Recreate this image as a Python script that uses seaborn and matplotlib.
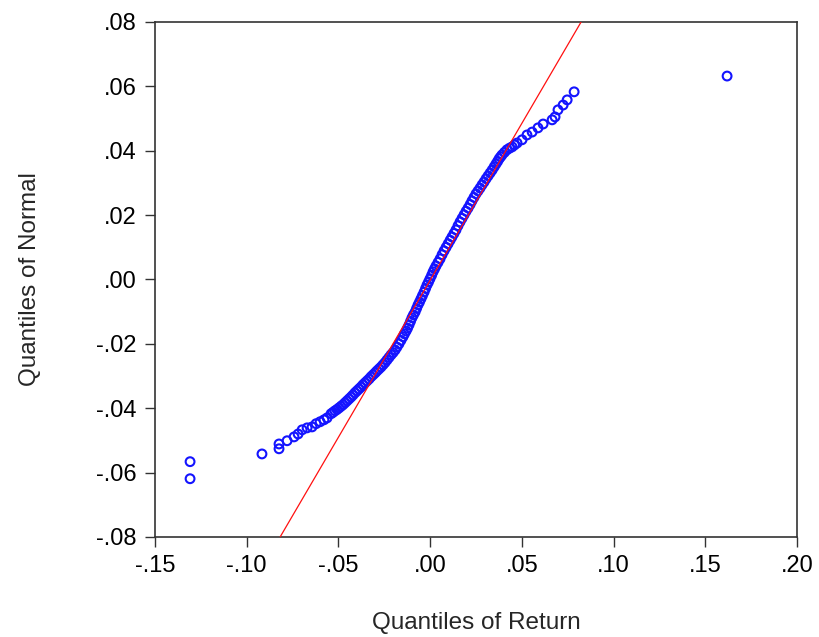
import matplotlib
matplotlib.use("Agg")
import matplotlib.pyplot as plt
import numpy as np
import pandas as pd
import seaborn as sns

# Empirical quantiles of the return series (sorted)
return_quantiles = [
    -0.1309, -0.1309, -0.0917, -0.0824, -0.0824, -0.0780, -0.0742, -0.0720,
    -0.0698, -0.0671, -0.0644, -0.0622, -0.0600, -0.0579, -0.0562,
    -0.0540, -0.0519, -0.0497, -0.0475, -0.0453, -0.0431, -0.0410, -0.0388,
    -0.0366, -0.0344, -0.0322, -0.0300, -0.0279, -0.0257, -0.0235, -0.0213,
    -0.0191, -0.0170, -0.0148, -0.0131, -0.0115, -0.0099, -0.0082, -0.0066,
    -0.0050, -0.0033, -0.0017, -0.0001, 0.0016, 0.0032, 0.0054, 0.0076,
    0.0098, 0.0119, 0.0141, 0.0163, 0.0185, 0.0207, 0.0228, 0.0250,
    0.0272, 0.0294, 0.0316, 0.0338, 0.0359, 0.0376, 0.0392,
    0.0405, 0.0419, 0.0433, 0.0447, 0.0460, 0.0474, 0.0501, 0.0528, 0.0556,
    0.0588, 0.0616, 0.0665, 0.0681, 0.0697, 0.0725, 0.0747, 0.0785, 0.1619,
]

# Matching theoretical normal quantiles
normal_quantiles = [
    -0.0619, -0.0566, -0.0542, -0.0526, -0.0511, -0.0501, -0.0489, -0.0480,
    -0.0467, -0.0461, -0.0458, -0.0448, -0.0442, -0.0436, -0.0430,
    -0.0417, -0.0408, -0.0399, -0.0389, -0.0377, -0.0365, -0.0352, -0.0340,
    -0.0327, -0.0315, -0.0302, -0.0290, -0.0278, -0.0265, -0.0250, -0.0234,
    -0.0219, -0.0200, -0.0178, -0.0160, -0.0141, -0.0119, -0.0101, -0.0079,
    -0.0060, -0.0039, -0.0017, 0.0002, 0.0024, 0.0042, 0.0064, 0.0089,
    0.0111, 0.0132, 0.0154, 0.0179, 0.0201, 0.0222, 0.0244, 0.0266,
    0.0284, 0.0303, 0.0322, 0.0340, 0.0359, 0.0375, 0.0387,
    0.0395, 0.0403, 0.0408, 0.0412, 0.0418, 0.0424, 0.0434, 0.0449, 0.0458,
    0.0471, 0.0483, 0.0496, 0.0505, 0.0527, 0.0542, 0.0558, 0.0583, 0.0632,
]

# Further observations in the crowded middle of the distribution
center_return_quantiles = [
    -0.0530, -0.0508, -0.0486, -0.0464, -0.0442, -0.0421, -0.0399, -0.0377,
    -0.0355, -0.0333, -0.0311, -0.0290, -0.0268, -0.0246, -0.0224, -0.0202,
    -0.0181, -0.0159, -0.0140, -0.0123, -0.0107, -0.0091, -0.0074, -0.0058,
    -0.0042, -0.0025, -0.0009, 0.0008, 0.0024, 0.0043, 0.0065, 0.0087,
    0.0109, 0.0130, 0.0152, 0.0174, 0.0196, 0.0218, 0.0239, 0.0261,
    0.0283, 0.0305, 0.0327, 0.0349, 0.0368, 0.0384,
]
center_normal_quantiles = [
    -0.0413, -0.0404, -0.0394, -0.0383, -0.0371, -0.0359, -0.0346, -0.0334,
    -0.0321, -0.0309, -0.0296, -0.0284, -0.0272, -0.0258, -0.0242, -0.0227,
    -0.0210, -0.0189, -0.0169, -0.0151, -0.0130, -0.0110, -0.0090, -0.0070,
    -0.0050, -0.0028, -0.0008, 0.0013, 0.0033, 0.0053, 0.0077, 0.0100,
    0.0122, 0.0143, 0.0167, 0.0190, 0.0212, 0.0233, 0.0255, 0.0275,
    0.0294, 0.0313, 0.0331, 0.0350, 0.0367, 0.0381,
]

# Reference line (normal fit)
ref_x = [-0.0818, 0.0823]
ref_y = [-0.0800, 0.0800]

x_ticks = [-0.15, -0.10, -0.05, 0.00, 0.05, 0.10, 0.15, 0.20]
x_tick_labels = ["-.15", "-.10", "-.05", ".00", ".05", ".10", ".15", ".20"]
y_ticks = [-0.08, -0.06, -0.04, -0.02, 0.00, 0.02, 0.04, 0.06, 0.08]
y_tick_labels = ["-.08", "-.06", "-.04", "-.02", ".00", ".02", ".04", ".06", ".08"]

sns.set_theme(style="ticks")
plt.rcParams["font.family"] = ["Liberation Sans", "DejaVu Sans"]

df = pd.DataFrame({
    "ret": return_quantiles + center_return_quantiles,
    "norm": normal_quantiles + center_normal_quantiles,
}).sort_values("ret")
ref = pd.DataFrame({"x": ref_x, "y": ref_y})

fig = plt.figure(figsize=(8.19, 6.37), dpi=100)
ax = fig.add_axes([0.1893, 0.157, 0.7838, 0.8085])

blue = "#1414ff"
sns.scatterplot(data=df, x="ret", y="norm", ax=ax, marker="o", s=40,
                color=blue, facecolor="none", edgecolor=blue,
                linewidth=1.5, zorder=2)
sns.lineplot(data=ref, x="x", y="y", ax=ax, color="#ff1010", linewidth=0.9,
             zorder=3)

ax.set_xlim(-0.15, 0.20)
ax.set_ylim(-0.08, 0.08)
ax.set_xticks(x_ticks)
ax.set_xticklabels(x_tick_labels)
ax.set_yticks(y_ticks)
ax.set_yticklabels(y_tick_labels)
ax.tick_params(axis="both", direction="out", length=7, width=1.0,
               color="#333333", labelsize=17, labelcolor="black", pad=6)
ax.tick_params(top=False, right=False)

for side in ["top", "right", "bottom", "left"]:
    ax.spines[side].set_visible(True)
    ax.spines[side].set_color("#333333")
    ax.spines[side].set_linewidth(1.2)

ax.set_xlabel("Quantiles of Return", fontsize=17.5, labelpad=25)
ax.set_ylabel("Quantiles of Normal", fontsize=17.5, labelpad=40)
ax.grid(False)

fig.savefig("out.png", dpi=100)
